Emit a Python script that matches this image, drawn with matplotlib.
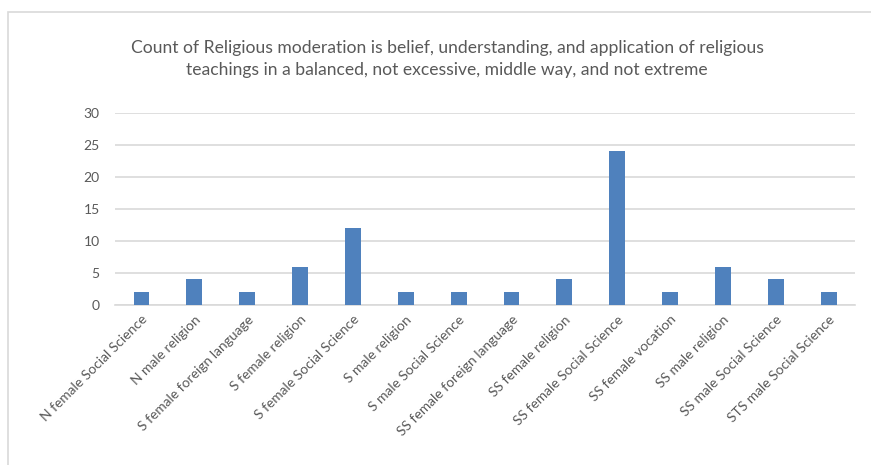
"""Excel-style column chart: count of religious moderation responses."""

import matplotlib.pyplot as plt
from matplotlib.patches import Rectangle

categories = [
    'N female Social Science', 'N male religion', 'S female foreign language',
    'S female religion', 'S female Social Science', 'S male religion',
    'S male Social Science', 'SS female foreign language', 'SS female religion',
    'SS female Social Science', 'SS female vocation', 'SS male religion',
    'SS male Social Science', 'STS male Social Science',
]
counts = [2, 4, 2, 6, 12, 2, 2, 2, 4, 24, 2, 6, 4, 2]
y_ticks = [0, 5, 10, 15, 20, 25, 30]

title = ('Count of Religious moderation is belief, understanding, and application of religious\n'
         'teachings in a balanced, not excessive, middle way, and not extreme')

plt.rcParams['font.family'] = ['Lato', 'DejaVu Sans']
text_color = '#595959'
grid_color = '#D9D9D9'
bar_color = '#4F81BD'

fig = plt.figure(figsize=(8.71, 4.65), dpi=100)
ax = fig.add_axes([115 / 871, 1 - 305 / 465, 740 / 871, 192 / 465])

# chart border (the screenshot is cropped so only top/left edges show)
fig.patches.append(Rectangle((8 / 871, -0.1), 1.2, 1.1 - 12 / 465,
                             transform=fig.transFigure, facecolor='none',
                             edgecolor=grid_color, linewidth=1.2))

x = range(len(categories))
ax.bar(x, counts, width=0.3, color=bar_color, zorder=3)

ax.set_xlim(-0.5, len(categories) - 0.5)
ax.set_ylim(0, 30)
ax.set_yticks(y_ticks)
ax.yaxis.grid(True, color=grid_color, linewidth=1.2, zorder=0)
ax.set_xticks(list(x))
ax.set_xticklabels(categories, rotation=45, ha='right', rotation_mode='anchor',
                   fontsize=10, color=text_color)
for lab in ax.get_yticklabels():
    lab.set_fontsize(10)
    lab.set_color(text_color)

ax.tick_params(axis='both', length=0)
ax.tick_params(axis='y', pad=11)
ax.tick_params(axis='x', pad=6)
for side in ['top', 'right', 'left']:
    ax.spines[side].set_visible(False)
ax.spines['bottom'].set_color(grid_color)
ax.spines['bottom'].set_linewidth(1.2)

fig.text(447 / 871, 1 - 59 / 465, title, ha='center', va='center',
         fontsize=12.6, color=text_color, linespacing=1.45)

fig.savefig('out.png', dpi=100, facecolor='white')
